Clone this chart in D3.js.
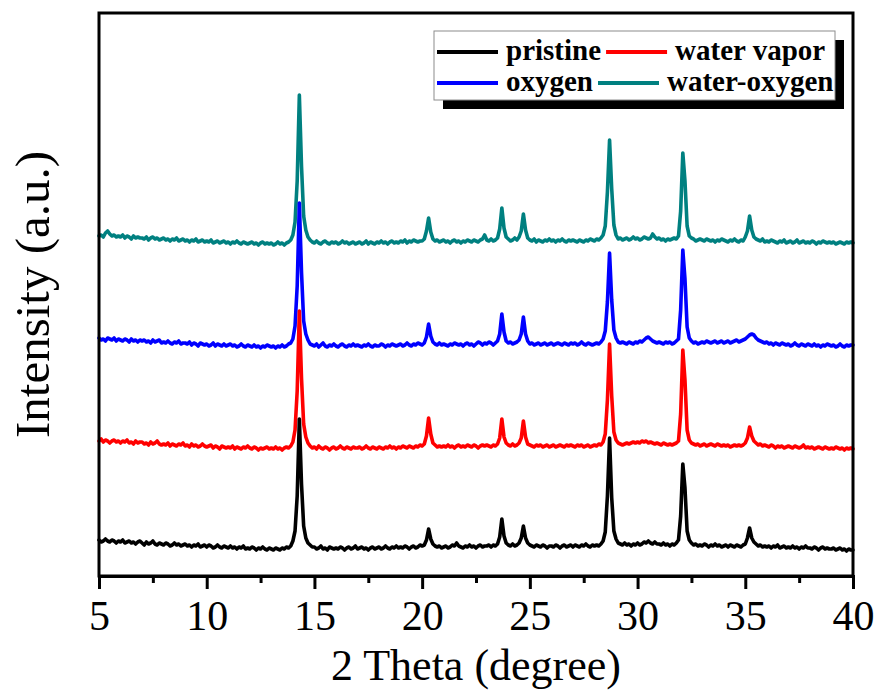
<!DOCTYPE html>
<html>
<head>
<meta charset="utf-8">
<script src="https://cdn.jsdelivr.net/npm/d3@7"></script>
<style>
  html, body { margin: 0; padding: 0; background: #fff; }
  svg { display: block; }
  text { font-family: "Liberation Serif", "Times New Roman", serif; }
</style>
</head>
<body>
<svg id="chart" width="880" height="692"></svg>
<script>
// XRD patterns, scan 5–40° 2θ at 0.1° steps (351 points per pattern)
const scanStart = 5, scanStep = 0.1;

const seriesNames = ["pristine", "water vapor", "oxygen", "water-oxygen"];
const seriesColors = ["#000000", "#ff0000", "#0000ff", "#008080"];
// vertical stacking offsets (a.u.)
const offsets = [0, 100, 202, 305];

const pristine = [
  36,34,35,37,35,34,36,35,33,35,
  34,36,33,34,35,33,34,32,34,35,
  33,31,34,32,33,35,32,31,33,32,
  31,33,32,30,31,33,31,32,30,31,
  32,30,31,29,31,30,32,29,30,31,
  29,31,30,28,29,31,29,28,30,29,
  28,30,28,29,27,29,28,30,27,28,
  27,29,28,26,28,27,29,27,26,28,
  27,26,28,27,26,28,27,29,28,30,
  35,45,80,157,92,50,38,33,31,29,
  29,27,28,30,27,28,26,29,28,27,
  28,27,29,28,26,28,29,27,28,30,
  27,28,29,27,28,26,28,29,27,28,
  29,27,28,30,28,27,29,28,30,28,
  29,28,30,29,27,29,30,28,29,31,
  30,31,36,47,37,32,30,29,30,28,
  29,30,28,29,31,30,33,30,29,28,
  30,29,31,29,30,28,30,31,29,30,
  30,31,29,31,30,32,39,57,40,33,
  31,30,32,30,31,33,38,50,38,33,
  31,30,29,31,30,29,31,30,28,30,
  30,29,31,30,28,30,31,29,30,31,
  29,31,30,29,31,30,32,30,29,31,
  30,31,30,32,35,44,80,138,78,45,
  37,33,32,31,33,31,32,30,32,31,
  33,31,32,34,33,35,33,32,34,32,
  32,31,33,31,32,30,32,31,33,36,
  60,112,88,45,36,33,31,32,30,31,
  30,32,31,29,31,30,32,30,31,29,
  30,31,29,31,30,29,31,30,29,31,
  32,38,48,38,34,32,30,31,29,30,
  29,30,28,30,29,31,28,29,30,28,
  29,28,30,28,29,27,29,28,30,28,
  28,27,29,28,26,28,29,27,28,27,
  27,28,26,27,28,26,27,25,27,26,
  26
];

const waterVapor = [
  35,37,34,36,35,33,35,36,34,35,
  33,35,34,36,33,34,32,35,33,34,
  34,32,33,31,34,32,33,35,32,31,
  32,31,33,30,32,31,30,32,31,33,
  30,31,29,32,30,31,29,30,32,30,
  29,30,31,28,30,29,27,30,29,28,
  29,28,30,27,29,28,27,29,28,30,
  28,27,29,28,26,28,27,28,29,27,
  28,27,29,27,28,26,28,29,28,30,
  34,46,85,165,98,52,39,33,30,28,
  29,27,30,28,27,29,28,26,28,29,
  27,28,30,28,27,29,28,27,29,28,
  28,29,27,28,30,28,27,29,28,27,
  29,28,27,29,28,30,28,29,27,29,
  28,30,29,28,30,29,28,30,29,31,
  30,32,40,58,42,33,31,29,30,29,
  30,29,31,29,30,28,30,31,29,30,
  29,31,30,29,31,30,28,30,31,30,
  31,30,29,31,30,32,38,57,39,33,
  31,30,32,30,31,33,38,55,39,32,
  31,30,29,31,30,31,29,30,31,29,
  30,31,29,30,31,30,29,31,30,31,
  30,29,31,30,31,29,30,31,29,30,
  31,30,32,31,34,42,76,132,80,44,
  36,33,32,31,32,33,32,33,34,33,
  34,33,35,34,35,33,34,33,32,33,
  32,31,33,32,31,32,31,32,33,35,
  62,126,96,46,36,33,32,31,32,30,
  31,32,30,31,32,31,30,32,31,30,
  31,30,31,29,30,31,30,31,30,31,
  33,38,49,40,35,33,31,32,30,31,
  30,29,31,30,28,30,29,30,28,29,
  30,29,28,30,29,28,29,31,28,29,
  28,29,27,28,29,28,27,29,28,27,
  28,27,29,28,27,28,26,28,27,28,
  27
];

const oxygen = [
  36,34,35,33,36,35,34,36,33,35,
  34,33,35,34,32,35,33,34,32,34,
  33,34,32,33,31,34,32,33,34,31,
  32,31,33,31,30,32,31,33,30,31,
  31,30,32,29,31,30,28,31,30,29,
  30,28,29,31,28,30,29,28,30,28,
  29,30,28,29,27,28,30,28,27,29,
  28,27,29,27,28,26,28,27,29,28,
  27,28,26,28,27,29,27,28,30,31,
  35,48,88,171,102,53,40,34,30,29,
  28,30,27,29,31,28,27,29,28,30,
  28,27,29,30,28,27,29,28,30,28,
  29,28,27,29,28,30,28,27,29,28,
  28,30,29,27,29,28,30,29,28,29,
  30,28,29,31,29,28,30,29,31,30,
  29,31,37,50,38,32,30,29,31,29,
  30,29,28,30,29,31,30,29,30,28,
  30,31,29,30,28,30,32,31,29,31,
  30,32,31,29,31,33,40,60,42,33,
  31,32,30,31,32,34,40,57,40,33,
  30,31,29,30,31,29,30,31,29,30,
  31,29,30,31,30,29,31,30,29,31,
  30,31,29,30,32,30,29,31,30,29,
  30,31,30,32,35,43,72,121,74,44,
  36,32,31,32,31,30,32,31,30,32,
  31,33,32,34,36,37,35,33,32,31,
  32,31,30,32,31,32,30,31,33,35,
  64,124,95,47,36,33,31,32,30,31,
  32,31,33,32,31,32,33,31,32,33,
  31,32,33,31,32,33,34,32,33,34,
  35,37,39,40,39,36,34,33,32,31,
  32,30,31,29,31,30,29,31,30,29,
  30,28,29,31,29,28,30,29,28,30,
  29,28,30,28,29,27,29,28,30,29,
  28,29,27,28,30,28,27,29,28,29,
  29
];

const waterOxygen = [
  35,36,34,38,40,37,35,36,34,35,
  34,36,33,35,34,32,35,33,34,33,
  33,32,34,31,33,34,32,33,31,32,
  33,31,32,30,32,31,33,30,31,32,
  30,31,29,31,30,32,29,30,31,29,
  30,29,31,28,29,30,28,29,30,28,
  29,27,29,28,30,28,27,29,28,27,
  28,29,27,28,26,28,29,27,28,27,
  28,26,27,29,27,28,26,28,29,31,
  36,49,90,176,105,55,41,34,31,29,
  28,30,28,27,29,30,28,27,29,28,
  29,27,28,30,28,29,27,28,29,27,
  28,29,27,28,30,27,29,28,27,29,
  28,30,28,29,27,29,30,28,29,28,
  30,29,31,28,30,29,31,30,29,30,
  30,32,40,53,39,32,30,31,29,30,
  31,29,30,28,30,31,29,30,28,30,
  29,31,30,29,31,30,29,31,32,36,
  31,30,32,30,31,33,42,63,43,34,
  32,30,31,33,31,34,40,57,41,33,
  31,30,32,29,31,30,29,31,30,32,
  30,31,29,31,30,32,30,29,31,30,
  31,30,29,31,30,29,31,30,32,31,
  30,32,31,33,36,45,79,131,82,46,
  36,32,33,31,32,33,31,32,34,32,
  33,31,32,34,33,32,33,37,34,32,
  33,31,32,30,32,31,32,33,32,35,
  60,118,90,45,35,33,32,30,31,32,
  31,30,32,31,30,31,29,31,30,32,
  31,30,29,31,30,32,30,29,31,30,
  34,40,55,41,34,32,31,30,32,29,
  30,29,31,30,29,28,30,29,31,28,
  29,30,28,29,31,28,29,30,28,29,
  28,30,29,27,29,28,30,29,28,29,
  28,29,27,28,29,28,27,29,28,29,
  28
];

const seriesValues = [pristine, waterVapor, oxygen, waterOxygen];

const xMajorTicks = [5, 10, 15, 20, 25, 30, 35, 40];
const xMinorTicks = [7.5, 12.5, 17.5, 22.5, 27.5, 32.5, 37.5];
const xTitle = "2 Theta (degree)";
const yTitle = "Intensity (a.u.)";

// ---- layout ----
const svg = d3.select("#chart");
const plot = { left: 99, right: 853, top: 13, bottom: 576 };

const x = d3.scaleLinear().domain([5, 40]).range([plot.left, plot.right]);
const y = d3.scaleLinear().domain([0, 563]).range([plot.bottom, plot.top]);

// ---- patterns (top pattern drawn first, pristine last) ----
const line = d3.line()
  .x(d => x(d[0]))
  .y(d => y(d[1]));

const gLines = svg.append("g");
d3.range(seriesValues.length).reverse().forEach(s => {
  const pts = seriesValues[s].map((v, i) => [scanStart + i * scanStep, v + offsets[s]]);
  gLines.append("path")
    .datum(pts)
    .attr("fill", "none")
    .attr("stroke", seriesColors[s])
    .attr("stroke-width", 3.6)
    .attr("stroke-linejoin", "round")
    .attr("stroke-linecap", "round")
    .attr("d", line);
});

// ---- frame ----
svg.append("rect")
  .attr("x", plot.left).attr("y", plot.top)
  .attr("width", plot.right - plot.left).attr("height", plot.bottom - plot.top)
  .attr("fill", "none").attr("stroke", "#000").attr("stroke-width", 3);

// ---- bottom axis ----
const axisMajor = d3.axisBottom(x).tickValues(xMajorTicks).tickSize(13).tickFormat(d3.format("d"));
const gx = svg.append("g").attr("transform", `translate(0,${plot.bottom})`).call(axisMajor);
gx.select(".domain").attr("stroke-width", 3);
gx.selectAll(".tick line").attr("stroke-width", 3);
gx.selectAll(".tick text")
  .attr("y", 54).attr("dy", 0)
  .attr("font-size", 42)
  .attr("fill", "#000")
  .style("font-family", '"Liberation Serif", "Times New Roman", serif');

const axisMinor = d3.axisBottom(x).tickValues(xMinorTicks).tickSize(7).tickFormat("");
const gxm = svg.append("g").attr("transform", `translate(0,${plot.bottom})`).call(axisMinor);
gxm.select(".domain").remove();
gxm.selectAll(".tick line").attr("stroke-width", 3);

// ---- axis titles ----
svg.append("text")
  .attr("x", (plot.left + plot.right) / 2).attr("y", 680)
  .attr("text-anchor", "middle")
  .attr("font-size", 44)
  .text(xTitle);

svg.append("text")
  .attr("transform", `translate(49,${(plot.top + plot.bottom) / 2}) rotate(-90)`)
  .attr("text-anchor", "middle")
  .attr("font-size", 49)
  .text(yTitle);

// ---- legend ----
const legend = { x: 434, y: 31, w: 401, h: 69, shadow: 9 };
svg.append("rect")
  .attr("x", legend.x + legend.shadow).attr("y", legend.y + legend.shadow)
  .attr("width", legend.w).attr("height", legend.h)
  .attr("fill", "#000");
svg.append("rect")
  .attr("x", legend.x).attr("y", legend.y)
  .attr("width", legend.w).attr("height", legend.h)
  .attr("fill", "#fff").attr("stroke", "#8c8c8c").attr("stroke-width", 1);

const legendRows = [[0, 1], [2, 3]];
const rowY = [52, 83];
legendRows.forEach((row, r) => {
  let cx = 437;
  row.forEach(s => {
    svg.append("line")
      .attr("x1", cx).attr("x2", cx + 61)
      .attr("y1", rowY[r]).attr("y2", rowY[r])
      .attr("stroke", seriesColors[s]).attr("stroke-width", 4);
    cx += 69;
    const t = svg.append("text")
      .attr("x", cx).attr("y", rowY[r] + 8)
      .attr("font-size", 29)
      .attr("font-weight", "bold")
      .text(seriesNames[s]);
    cx += t.node().getComputedTextLength() + 5;
  });
});
</script>
</body>
</html>
